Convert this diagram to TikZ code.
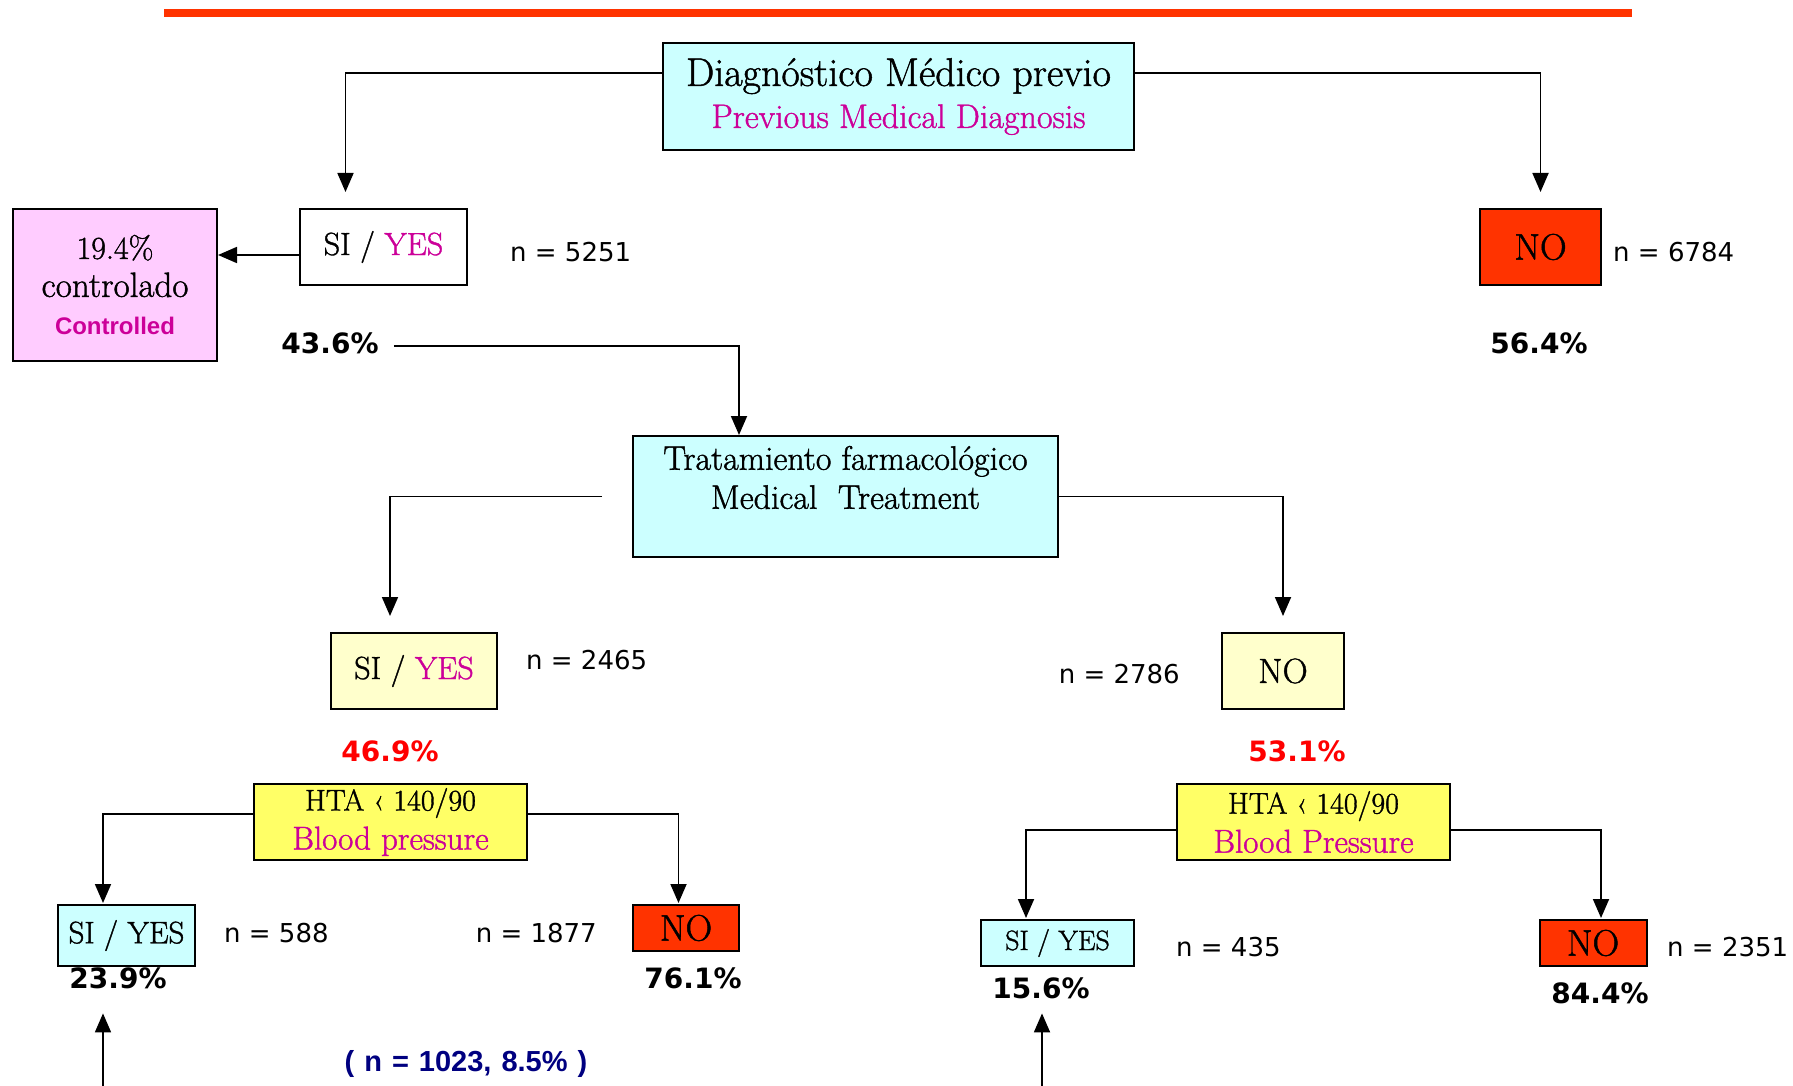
\documentclass[tikz,border=0pt]{standalone}
\usepackage{fontspec}
\usepackage{xcolor}
\usepackage{tikz}
\usetikzlibrary{positioning,arrows.meta,calc}
\setmainfont{Latin Modern Roman}[FakeBold=1.2]
\newfontfamily\verdfont{DejaVu Sans}
\newfontfamily\arialfont{Liberation Sans}
\definecolor{boxcyan}{RGB}{204,255,255}
\definecolor{boxpink}{RGB}{255,204,255}
\definecolor{paleyellow}{RGB}{255,255,204}
\definecolor{hiyellow}{RGB}{255,255,102}
\definecolor{alertred}{RGB}{255,51,0}
\definecolor{magtext}{RGB}{204,0,153}
\definecolor{navytext}{RGB}{0,0,128}
\newcommand{\fsz}[2]{\fontsize{#1}{#2}\selectfont}

\begin{document}
\begin{tikzpicture}[x=1pt,y=-1pt,
  box/.style={draw=black, line width=2pt, inner sep=0pt, align=center},
  link/.style={line width=1.8pt, -{Triangle[length=19pt,width=16pt]}},
  ncount/.style={inner sep=0pt, font=\verdfont\fsz{26}{30}},
  share/.style={inner sep=0pt, font=\verdfont\bfseries\fsz{28}{30}}]
  \useasboundingbox (0,0) rectangle (1793,1086);
  \fill[alertred] (164,9) rectangle (1632,17);

  % first split: previous diagnosis
  \node[box, fill=boxcyan, minimum width=471pt, minimum height=107pt, font=\fsz{40}{42}] (diag) at (898.5,96.5)
    {Diagnóstico Médico previo\\{\color{magtext}\fsz{34}{42}Previous Medical Diagnosis}};
  \node[box, fill=white, minimum width=167pt, minimum height=76pt, font=\fsz{32}{36}] (diagyes) at (383.5,247) {SI / \textcolor{magtext}{YES}};
  \node[box, fill=alertred, minimum width=121pt, minimum height=76pt, font=\fsz{37}{40}] (diagno) at (1540.5,247) {NO};
  \node[box, fill=boxpink, minimum width=204pt, minimum height=152pt, font=\fsz{35}{38}] (ctrl) at (115,285)
    {{\fsz{32}{38}19.4\%}\\controlado\\{\arialfont\bfseries\fsz{24}{30}\color{magtext}Controlled}};
  \node[ncount, anchor=west] (ndiagyes) at (510,252) {n = 5251};
  \node[share] (pdiagyes) at (330,343) {43.6\%};
  \node[ncount, anchor=west] (ndiagno) at (1613,252) {n = 6784};
  \node[share] (pdiagno) at (1539,343) {56.4\%};

  % second split: medical treatment
  \node[box, fill=boxcyan, minimum width=425pt, minimum height=121pt] (treat) at (845.5,496.5) {};
  \node[font=\fsz{34}{39}, align=center] (treattxt) at (845.5,477.5) {Tratamiento farmacológico\\Medical\ \ Treatment};
  \node[box, fill=paleyellow, minimum width=166pt, minimum height=76pt, font=\fsz{32}{36}] (treatyes) at (414,671) {SI / \textcolor{magtext}{YES}};
  \node[box, fill=paleyellow, minimum width=122pt, minimum height=76pt, font=\fsz{35}{38}] (treatno) at (1283,671) {NO};
  \node[ncount, anchor=west] (ntreatyes) at (526,660) {n = 2465};
  \node[share, text=red] (ptreatyes) at (390,751) {46.9\%};
  \node[ncount, anchor=east] (ntreatno) at (1180,674) {n = 2786};
  \node[share, text=red] (ptreatno) at (1297,751) {53.1\%};

  % third split: blood pressure
  \node[box, fill=hiyellow, minimum width=273pt, minimum height=76pt, font=\fsz{30}{39}] (htayes) at (390.5,822)
    {HTA ‹ 140/90\\{\fsz{33}{39}\color{magtext}Blood pressure}};
  \node[box, fill=hiyellow, minimum width=273pt, minimum height=76pt, font=\fsz{30}{39}] (htano) at (1313.5,822)
    {HTA ‹ 140/90\\{\fsz{33}{39}\color{magtext}Blood Pressure}};
  \node[box, fill=boxcyan, minimum width=137pt, minimum height=61pt, font=\fsz{31}{33}] (hyy) at (126.5,935.5) {SI / YES};
  \node[box, fill=alertred, minimum width=106pt, minimum height=46pt, font=\fsz{37}{38}] (hyn) at (686,928) {NO};
  \node[box, fill=boxcyan, minimum width=153pt, minimum height=46pt, font=\fsz{28}{33}] (hny) at (1057.5,943) {SI / YES};
  \node[box, fill=alertred, minimum width=107pt, minimum height=46pt, font=\fsz{37}{38}] (hnn) at (1593,943) {NO};
  \node[ncount, anchor=west] (nhyy) at (224,933) {n = 588};
  \node[ncount, anchor=east] (nhyn) at (597,933) {n = 1877};
  \node[share] (phyy) at (118,978) {23.9\%};
  \node[share] (phyn) at (693,978) {76.1\%};
  \node[ncount, anchor=west] (nhny) at (1176,947) {n = 435};
  \node[ncount, anchor=west] (nhnn) at (1667,947) {n = 2351};
  \node[share] (phny) at (1041,988) {15.6\%};
  \node[share] (phnn) at (1600,993) {84.4\%};
  \node[font=\arialfont\bfseries\fsz{29}{30}, text=navytext] (total) at (466,1064)
    {\spaceskip=10pt ( n = 1023, 8.5\% )};

  % connectors
  \draw[link] ([yshift=23.5pt]diag.west) -| ([xshift=-38pt,yshift=16pt]diagyes.north);
  \draw[link] ([yshift=23.5pt]diag.east) -| ([yshift=16pt]diagno.north);
  \draw[link] ([yshift=-8pt]diagyes.west) -- ([yshift=-8pt]diagyes.west -| ctrl.east);
  \draw[link] ([xshift=15pt,yshift=-3pt]pdiagyes.east) -| ([xshift=-106.5pt]treat.north);
  \draw[link] ([xshift=-30pt]treat.west) -| ([xshift=-24pt,yshift=16pt]treatyes.north);
  \draw[link] (treat.east) -| ([yshift=16pt]treatno.north);
  \draw[link] ([yshift=8pt]htayes.west) -| ([xshift=-23.5pt,yshift=1pt]hyy.north);
  \draw[link] ([yshift=8pt]htayes.east) -| ([xshift=-7.5pt,yshift=1pt]hyn.north);
  \draw[link] ([yshift=-8pt]htano.west) -| ([xshift=-31.5pt,yshift=1pt]hny.north);
  \draw[link] ([yshift=-8pt]htano.east) -| ([xshift=8pt,yshift=1pt]hnn.north);

  % both controlled groups
  \coordinate (baseL) at (103,1086.4);
  \coordinate (baseR) at (1042,1086.4);
  \draw[line width=1.8pt, {Triangle[length=19pt,width=16pt]}-{Triangle[length=19pt,width=16pt]}]
    ([yshift=-46.4pt]hyy.south -| baseL) -- (baseL) -- (baseR) -- ([yshift=-46.4pt]hny.south -| baseR);
\end{tikzpicture}
\end{document}
